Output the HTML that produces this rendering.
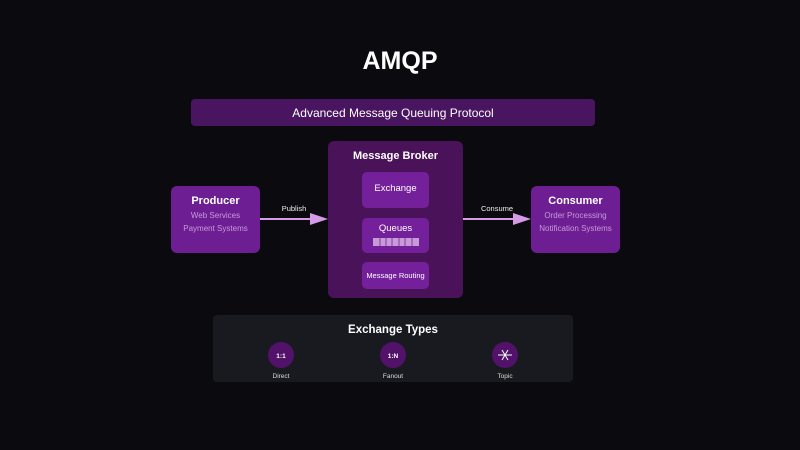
<!DOCTYPE html>
<html><head><meta charset="utf-8"><style>html,body{margin:0;padding:0;background:#0b0b0f;}svg{display:block;font-family:"Liberation Sans",sans-serif;}</style></head>
<body>
<svg width="800" height="450" viewBox="0 0 800 450" xmlns="http://www.w3.org/2000/svg">
<rect width="800" height="450" fill="#0b0b0f"/>
<text x="400" y="69" text-anchor="middle" fill="#fff" font-size="25" font-weight="bold">AMQP</text>
<rect x="191" y="99" width="404" height="27" rx="4" fill="#4a1560"/>
<text x="393" y="117" text-anchor="middle" fill="#fff" font-size="12">Advanced Message Queuing Protocol</text>

<rect x="328" y="141" width="135" height="157" rx="6" fill="#4a1259"/>
<text x="395.5" y="159" text-anchor="middle" fill="#fff" font-size="11" font-weight="bold">Message Broker</text>
<rect x="362" y="172" width="67" height="36" rx="5" fill="#74209a"/>
<text x="395.5" y="191" text-anchor="middle" fill="#fff" font-size="9.5">Exchange</text>
<rect x="362" y="218" width="67" height="35" rx="5" fill="#74209a"/>
<text x="395.5" y="231" text-anchor="middle" fill="#fff" font-size="9.5">Queues</text>
<rect x="373" y="238" width="46" height="8" fill="#c79ad8"/>
<g stroke="#74209a" stroke-width="0.8"><line x1="380" y1="238" x2="380" y2="246"/><line x1="386" y1="238" x2="386" y2="246"/><line x1="392" y1="238" x2="392" y2="246"/><line x1="399" y1="238" x2="399" y2="246"/><line x1="405" y1="238" x2="405" y2="246"/><line x1="412" y1="238" x2="412" y2="246"/></g>
<rect x="362" y="262" width="67" height="27" rx="5" fill="#74209a"/>
<text x="395.5" y="278" text-anchor="middle" fill="#fff" font-size="7.5">Message Routing</text>

<rect x="171" y="186" width="89" height="67" rx="6" fill="#6e1e93"/>
<text x="215.5" y="204" text-anchor="middle" fill="#fff" font-size="11" font-weight="bold">Producer</text>
<text x="215.5" y="218" text-anchor="middle" fill="#c79ad8" font-size="8">Web Services</text>
<text x="215.5" y="231" text-anchor="middle" fill="#c79ad8" font-size="8">Payment Systems</text>

<rect x="531" y="186" width="89" height="67" rx="6" fill="#6e1e93"/>
<text x="575.5" y="204" text-anchor="middle" fill="#fff" font-size="11" font-weight="bold">Consumer</text>
<text x="575.5" y="218" text-anchor="middle" fill="#c79ad8" font-size="8">Order Processing</text>
<text x="575.5" y="231" text-anchor="middle" fill="#c79ad8" font-size="8">Notification Systems</text>

<line x1="260" y1="219" x2="312" y2="219" stroke="#d59be6" stroke-width="2"/>
<polygon points="310,213 328,219 310,225" fill="#d59be6"/>
<text x="294" y="211" text-anchor="middle" fill="#eee" font-size="7.5">Publish</text>
<line x1="463" y1="219" x2="515" y2="219" stroke="#d59be6" stroke-width="2"/>
<polygon points="513,213 531,219 513,225" fill="#d59be6"/>
<text x="497" y="211" text-anchor="middle" fill="#eee" font-size="7.5">Consume</text>

<rect x="213" y="315" width="360" height="67" rx="4" fill="#181a20"/>
<text x="393" y="333" text-anchor="middle" fill="#fff" font-size="11.5" font-weight="bold">Exchange Types</text>
<circle cx="281" cy="355" r="13" fill="#52126a"/>
<text x="281" y="358" text-anchor="middle" fill="#fff" font-size="6.5" font-weight="bold">1:1</text>
<text x="281" y="378" text-anchor="middle" fill="#ddd" font-size="6.5">Direct</text>
<circle cx="393" cy="355" r="13" fill="#52126a"/>
<text x="393" y="358" text-anchor="middle" fill="#fff" font-size="6.5" font-weight="bold">1:N</text>
<text x="393" y="378" text-anchor="middle" fill="#ddd" font-size="6.5">Fanout</text>
<circle cx="505" cy="355" r="13" fill="#52126a"/>
<g stroke="#fff" stroke-width="1"><line x1="498" y1="355" x2="512" y2="355"/><line x1="502" y1="350" x2="508" y2="360"/><line x1="508" y1="350" x2="502" y2="360"/></g>
<text x="505" y="378" text-anchor="middle" fill="#ddd" font-size="6.5">Topic</text>
</svg>
</body></html>
